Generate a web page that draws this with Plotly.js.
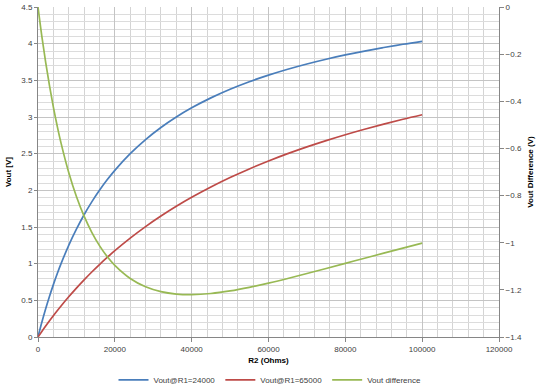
<!DOCTYPE html>
<html>
<head>
<meta charset="utf-8">
<script src="https://cdn.plot.ly/plotly-3.0.1.min.js"></script>
<style>html,body{margin:0;padding:0;background:#fff;}#chart{width:540px;height:392px;}</style>
</head>
<body>
<div id="chart"></div>
<script>
const r2 = [0,1000,2000,3000,4000,5000,6000,8000,10000,12000,14000,16000,18000,20000,24000,28000,32000,36000,40000,45000,50000,55000,60000,65000,70000,75000,80000,85000,90000,95000,100000];
const vout24 = [0,0.2,0.3846,0.5556,0.7143,0.8621,1.0,1.25,1.4706,1.6667,1.8421,2.0,2.1429,2.2727,2.5,2.6923,2.8571,3.0,3.125,3.2609,3.3784,3.4810,3.5714,3.6517,3.7234,3.7879,3.8462,3.8991,3.9474,3.9916,4.0323];
const vout65 = [0,0.0758,0.1493,0.2206,0.2899,0.3571,0.4225,0.5479,0.6667,0.7792,0.8861,0.9877,1.0843,1.1765,1.3483,1.5054,1.6495,1.7822,1.9048,2.0455,2.1739,2.2917,2.4,2.5,2.5926,2.6786,2.7586,2.8333,2.9032,2.9688,3.0303];
const voutDiff = [0,-0.1242,-0.2353,-0.3350,-0.4244,-0.5050,-0.5775,-0.7021,-0.8039,-0.8875,-0.9560,-1.0123,-1.0586,-1.0962,-1.1517,-1.1869,-1.2076,-1.2178,-1.2202,-1.2154,-1.2045,-1.1893,-1.1714,-1.1517,-1.1308,-1.1093,-1.0876,-1.0658,-1.0442,-1.0228,-1.0020];
const names = ['Vout@R1=24000','Vout@R1=65000','Vout difference'];

const traces = [
  {x:r2, y:vout24, name:names[0], mode:'lines', line:{color:'#4A7EBB', width:1.7, shape:'spline'}},
  {x:r2, y:vout65, name:names[1], mode:'lines', line:{color:'#BE4B48', width:1.7, shape:'spline'}},
  {x:r2, y:voutDiff, name:names[2], mode:'lines', yaxis:'y2', line:{color:'#98B954', width:1.7, shape:'spline'}}
];

const ff = 'Liberation Sans, Arial, sans-serif';
const tf = {family:ff, size:8, color:'#404040'};
const layout = {
  width:540, height:392,
  margin:{l:38, r:41, t:7, b:55},
  paper_bgcolor:'#fff', plot_bgcolor:'#fff',
  font:tf,
  showlegend:true,
  legend:{orientation:'h', xref:'container', x:0.5, xanchor:'center', yref:'container', y:0.031, yanchor:'middle', itemwidth:30, font:{family:ff, size:8, color:'#404040'}, traceorder:'normal'},
  xaxis:{range:[0,120000], dtick:20000, tick0:0, tickformat:'d', showgrid:true, gridcolor:'#c4c4c4', gridwidth:1,
    minor:{dtick:4000, showgrid:true, gridcolor:'#d4d4d4', gridwidth:1},
    showline:true, linecolor:'#868686', ticks:'outside', ticklen:4, tickcolor:'#868686', zeroline:false, automargin:false,
    tickfont:tf, title:{text:'<b>R2 (Ohms)</b>', font:{family:ff, size:8, color:'#000'}, standoff:10}},
  yaxis:{range:[0,4.5], dtick:0.5, tick0:0, showgrid:true, gridcolor:'#c4c4c4', gridwidth:1,
    minor:{dtick:0.1, showgrid:true, gridcolor:'#dcdcdc', gridwidth:1},
    showline:true, linecolor:'#868686', ticks:'outside', ticklen:3, tickcolor:'#868686', zeroline:false, automargin:false,
    tickfont:tf, title:{text:'<b>Vout [V]</b>', font:{family:ff, size:8, color:'#000'}, standoff:8}},
  yaxis2:{range:[-1.4,0], dtick:0.2, tick0:0, overlaying:'y', side:'right', showgrid:false,
    showline:true, linecolor:'#868686', ticks:'outside', ticklen:4, tickcolor:'#868686', zeroline:false, automargin:false,
    tickfont:tf, title:{text:'<b>Vout Difference (V)</b>', font:{family:ff, size:8, color:'#000'}, standoff:6}}
};
Plotly.newPlot('chart', traces, layout, {displayModeBar:false, staticPlot:true});
</script>
</body>
</html>
